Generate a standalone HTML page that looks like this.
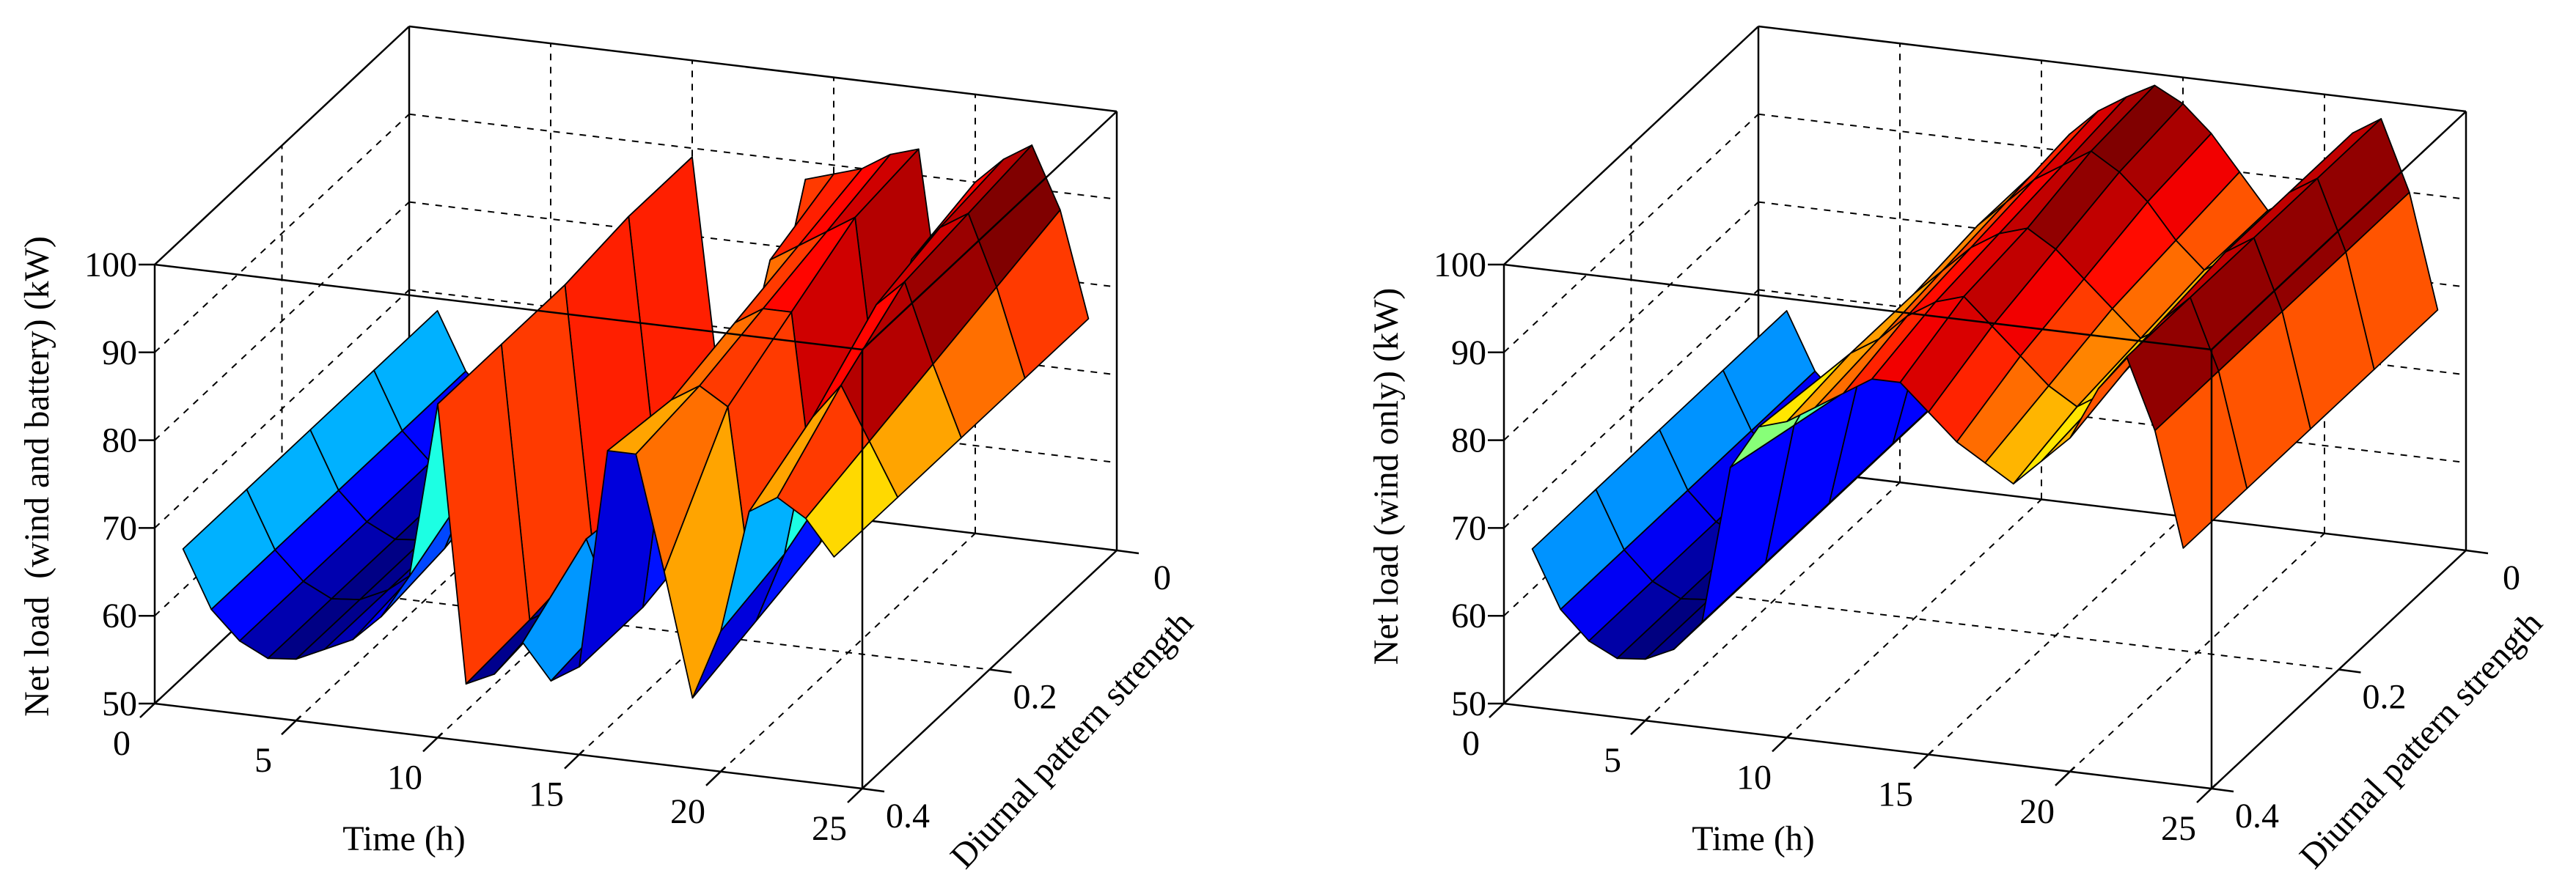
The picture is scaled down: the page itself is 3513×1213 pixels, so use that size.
<!DOCTYPE html>
<html><head><meta charset="utf-8">
<style>
html,body{margin:0;padding:0;background:#fff;}
svg{display:block;}
text{font-family:"Liberation Serif","Times New Roman",serif;fill:#000;white-space:pre;}
</style></head>
<body>
<svg id="chart" width="3513" height="1213" viewBox="0 0 3513 1213" xmlns="http://www.w3.org/2000/svg">
<g id="p0"></g>
<g id="p1"></g>
</svg>
<script>
// ---- data ----
const times = [1,2,3,4,5,6,7,8,9,10,11,12,13,14,15,16,17,18,19,20,21,22,23,24];
const strengths = [0, 0.1, 0.2, 0.3, 0.4];
const zTicks = [50,60,70,80,90,100];
const tTicks = [0,5,10,15,20,25];
const sTicks = [0,0.2,0.4];
const sTickLabels = ['0','0.2','0.4'];

// Panel A: wind and battery (rows = strengths 0..0.4)
const batteryS0  = [68,61.5,58.3,56.7,57,58.5,63,74,84,89,62,64,66,88,89,90,92,93,70,90,93,95,88,76];
const batteryS1  = [68,61.5,58.3,56.7,57,58.5,62,70,80,89,60,62,64,62,86,88,90,92,66,88,92,94,86,76];
const batteryS2  = [68,61.5,58.3,56.7,57,58.5,61,66,76,88,58,60,66,60,62,86,88,88,62,72,90,93,84,76];
const batteryS3  = [68,61.5,58.3,56.7,57,58.5,61,64,72,88,57,59,67,59,60,84,86,84,60,68,84,88,82,76];
const batteryS4  = [68,61.5,58.3,56.7,57,58.5,60,63,68,88,56.5,58,62,58,60,85,85,72,58,66,80,82,80,76];

// Panel B: wind only
const windS0 = [68,61.5,58.3,56.7,57,58.5,62,72,78,88,92,95,97,98.7,97,94,90,86,88,92,96,98,90,77];
const windS1 = [68,61.5,58.3,56.7,57,58.5,62,74,80,88,91,94,96,98,96,93,89,86,88,92,96,98,90,77];
const windS2 = [68,61.5,58.3,56.7,57,58.5,62,76,82,87,90,93,95,96,94,91,88,85,87,91,96,98,90,77];
const windS3 = [68,61.5,58.3,56.7,57,58.5,62,78,84,87,89,92,94,95,92,89,86,84,86,90,95,98,90,77];
const windS4 = [68,61.5,58.3,56.7,57,58.5,62,80,85,86,88,90,92,92,89,86,84,82,85,88,94,98,90,77];

const batteryRows = [batteryS0,batteryS1,batteryS2,batteryS3,batteryS4];
const windRows = [windS0,windS1,windS2,windS3,windS4];

const NS='http://www.w3.org/2000/svg';
function mk(tag, attrs, parent){
  const e=document.createElementNS(NS,tag);
  for(const k in attrs) e.setAttribute(k,attrs[k]);
  parent.appendChild(e); return e;
}
function jet(v){
  v=Math.max(0,Math.min(1,v));
  const c=x=>Math.round(255*Math.max(0,Math.min(1,x)));
  return 'rgb('+c(1.5-Math.abs(4*v-3))+','+c(1.5-Math.abs(4*v-2))+','+c(1.5-Math.abs(4*v-1))+')';
}

function drawPanel(g, ox, rows, ylabel, yLabelX){
  const P=(t,s,z)=>[ox+38.6*t+867.5*(0.4-s), 960+4.64*t-812.5*(0.4-s)-11.98*(z-50)];
  const line=(a,b,w,dash,name)=>{
    const l=mk('line',{x1:a[0],y1:a[1],x2:b[0],y2:b[1],stroke:'#000','stroke-width':w},g);
    if(dash) l.setAttribute('stroke-dasharray',dash);
    
    
    return l;
  };
  const D='9,9';
  for(const t of [5,10,15,20]){
    line(P(t,0,50),P(t,0,100),2,D,'back-grid-vertical');
    line(P(t,0.4,50),P(t,0,50),2,D,'floor-grid-line');
  }
  for(const z of [60,70,80,90]){
    line(P(0,0,z),P(25,0,z),2,D,'back-grid-horizontal');
    line(P(0,0.4,z),P(0,0,z),2,D,'side-grid-line');
  }
  line(P(0,0.2,50),P(0,0.2,100),2,D,'side-grid-vertical');
  line(P(0,0.2,50),P(25,0.2,50),2,D,'floor-grid-line');
  line(P(0,0,50),P(25,0,50),2.5,null,'box-edge');
  line(P(0,0.4,50),P(0,0,50),2.5,null,'box-edge');
  line(P(0,0,50),P(0,0,100),2.5,null,'box-edge');

  let zmin=Infinity,zmax=-Infinity;
  rows.forEach(r=>r.forEach(v=>{zmin=Math.min(zmin,v);zmax=Math.max(zmax,v);}));
  const faces=[];
  for(let i=0;i<strengths.length-1;i++){
    for(let j=0;j<times.length-1;j++){
      const s0=strengths[i],s1=strengths[i+1],t0=times[j],t1=times[j+1];
      const za=rows[i][j],zb=rows[i][j+1],zc=rows[i+1][j+1],zd=rows[i+1][j];
      const pts=[P(t0,s0,za),P(t1,s0,zb),P(t1,s1,zc),P(t0,s1,zd)];
      const depth=4.64*(t0+t1)/2+812.5*(s0+s1)/2;
      faces.push({pts,zc:za,depth});
    }
  }
  faces.sort((a,b)=>a.depth-b.depth);
  const sg=mk('g',{},g);
  
  
  faces.forEach(f=>{
    const p=mk('polygon',{points:f.pts.map(q=>q[0].toFixed(1)+','+q[1].toFixed(1)).join(' '),
      fill:jet((f.zc-zmin)/(zmax-zmin)),stroke:'#000','stroke-width':1.8,'stroke-linejoin':'round'},sg);
    
    
  });

  const E=[[P(0,0.4,50),P(25,0.4,50)],[P(0,0.4,50),P(0,0.4,100)],[P(0,0.4,100),P(25,0.4,100)],
    [P(25,0.4,50),P(25,0.4,100)],[P(25,0.4,50),P(25,0,50)],[P(25,0,50),P(25,0,100)],
    [P(0,0,100),P(25,0,100)],[P(0,0.4,100),P(0,0,100)],[P(25,0.4,100),P(25,0,100)]];
  E.forEach(e=>line(e[0],e[1],2.5,null,'box-edge'));

  zTicks.forEach(z=>{
    const a=P(0,0.4,z);
    line([a[0]-22,a[1]],a,2.5,null,'z-tick');
    const tx=mk('text',{x:a[0]-24,y:a[1]+16,'font-size':48,'text-anchor':'end'},g);
    tx.textContent=z;
    
    
  });
  tTicks.forEach(t=>{
    const a=P(t,0.4,50);
    line([a[0]-20,a[1]+19],[a[0]+6,a[1]-6],2.5,null,'time-tick');
    const tx=mk('text',{x:a[0]-45,y:a[1]+70,'font-size':48,'text-anchor':'middle'},g);
    tx.textContent=t;
    
    
  });
  sTicks.forEach((s,k)=>{
    const a=P(25,s,50);
    line(a,[a[0]+30,a[1]+4],2.5,null,'strength-tick');
    const tx=mk('text',{x:a[0]+62,y:a[1]+53,'font-size':48,'text-anchor':'middle'},g);
    tx.textContent=sTickLabels[k];
    
    
  });
  const yl=mk('text',{x:0,y:0,'font-size':48,'text-anchor':'middle',transform:'translate('+yLabelX+',650) rotate(-90)'},g);
  yl.textContent=ylabel;
  
  
  const xl=mk('text',{x:ox+340,y:1160,'font-size':48,'text-anchor':'middle'},g);
  xl.textContent='Time (h)';
  
  
  const dl=mk('text',{x:0,y:0,'font-size':48,'text-anchor':'middle',transform:'translate('+(ox+1262)+',1020) rotate(-47)'},g);
  dl.textContent='Diurnal pattern strength';
  
  
}
drawPanel(document.getElementById('p0'),211,batteryRows,'Net load  (wind and battery) (kW)',66);
drawPanel(document.getElementById('p1'),2051,windRows,'Net load (wind only) (kW)',1906);
</script>
</body></html>
